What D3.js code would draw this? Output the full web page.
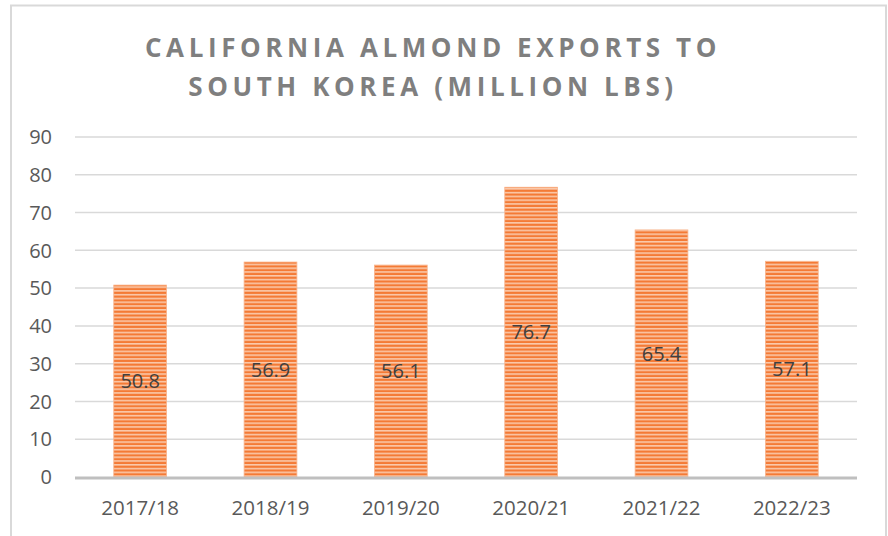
<!DOCTYPE html>
<html>
<head>
<meta charset="utf-8">
<script src="https://cdn.jsdelivr.net/npm/d3@7"></script>
<style>
  body { margin: 0; background: #fff; }
</style>
</head>
<body>
<div id="chart"></div>
<script>
var seasons = ["2017/18", "2018/19", "2019/20", "2020/21", "2021/22", "2022/23"]
var exports = [50.8, 56.9, 56.1, 76.7, 65.4, 57.1]
var yTicks = [0, 10, 20, 30, 40, 50, 60, 70, 80, 90]
var titleLines = ["CALIFORNIA ALMOND EXPORTS TO", "SOUTH KOREA (MILLION LBS)"]

var W = 888, H = 536
var margin = {top: 137, right: 31, bottom: 59, left: 75}

var svg = d3.select("#chart").append("svg")
  .attr("width", W).attr("height", H)
  .style("font-family", "'Open Sans', sans-serif")

// striped fill like the Excel pattern
var defs = svg.append("defs")
var pat = defs.append("pattern")
  .attr("id", "stripes")
  .attr("patternUnits", "userSpaceOnUse")
  .attr("width", 8).attr("height", 3.78)
pat.append("rect").attr("width", 8).attr("height", 3.78).attr("fill", "#fbd0b5")
pat.append("rect").attr("y", 0.6).attr("width", 8).attr("height", 2.3).attr("fill", "#f47a35")

// outer chart border
svg.append("rect")
  .attr("x", 11).attr("y", 5.5)
  .attr("width", 875).attr("height", 540)
  .attr("fill", "none").attr("stroke", "#d9d9d9").attr("stroke-width", 2)

var x = d3.scaleBand()
  .domain(seasons)
  .range([margin.left, W - margin.right])
  .paddingInner(0.595).paddingOuter(0.2975)

var y = d3.scaleLinear()
  .domain([0, 90])
  .range([H - margin.bottom, margin.top])

// gridlines
svg.append("g")
  .selectAll("line")
  .data(yTicks.filter(d => d > 0))
  .join("line")
    .attr("x1", margin.left).attr("x2", W - margin.right)
    .attr("y1", d => y(d)).attr("y2", d => y(d))
    .attr("stroke", "#d9d9d9").attr("stroke-width", 1.5)

// y tick labels
svg.append("g")
  .selectAll("text")
  .data(yTicks)
  .join("text")
    .attr("x", 52).attr("y", d => y(d))
    .attr("dy", "0.36em")
    .attr("text-anchor", "end")
    .attr("fill", "#595959")
    .style("font-size", "20px")
    .text(d => d)

// bars
svg.append("g")
  .selectAll("rect")
  .data(exports)
  .join("rect")
    .attr("x", (d, i) => x(seasons[i]))
    .attr("y", d => y(d))
    .attr("width", x.bandwidth())
    .attr("height", d => y(0) - y(d))
    .attr("fill", "url(#stripes)")
    .attr("stroke", "#f9b48c").attr("stroke-width", 0.8)

// baseline
svg.append("line")
  .attr("x1", margin.left).attr("x2", W - margin.right)
  .attr("y1", y(0) + 1).attr("y2", y(0) + 1)
  .attr("stroke", "#bfbfbf").attr("stroke-width", 3)

// value labels, centred in the bar
svg.append("g")
  .selectAll("text")
  .data(exports)
  .join("text")
    .attr("x", (d, i) => x(seasons[i]) + x.bandwidth() / 2)
    .attr("y", d => y(d / 2))
    .attr("dy", "0.36em")
    .attr("text-anchor", "middle")
    .attr("fill", "#404040")
    .style("font-size", "20px")
    .text(d => d.toFixed(1))

// x axis labels
svg.append("g")
  .selectAll("text")
  .data(seasons)
  .join("text")
    .attr("x", d => x(d) + x.bandwidth() / 2)
    .attr("y", 508)
    .attr("dy", "0.36em")
    .attr("text-anchor", "middle")
    .attr("fill", "#595959")
    .style("font-size", "20.5px")
    .text(d => d)

// title
svg.append("g")
  .selectAll("text")
  .data(titleLines)
  .join("text")
    .attr("x", 433)
    .attr("y", (d, i) => 57 + i * 39)
    .attr("text-anchor", "middle")
    .attr("fill", "#7f7f7f")
    .style("font-size", "26px")
    .style("font-weight", "bold")
    .style("letter-spacing", "4.6px")
    .text(d => d)
</script>
</body>
</html>
